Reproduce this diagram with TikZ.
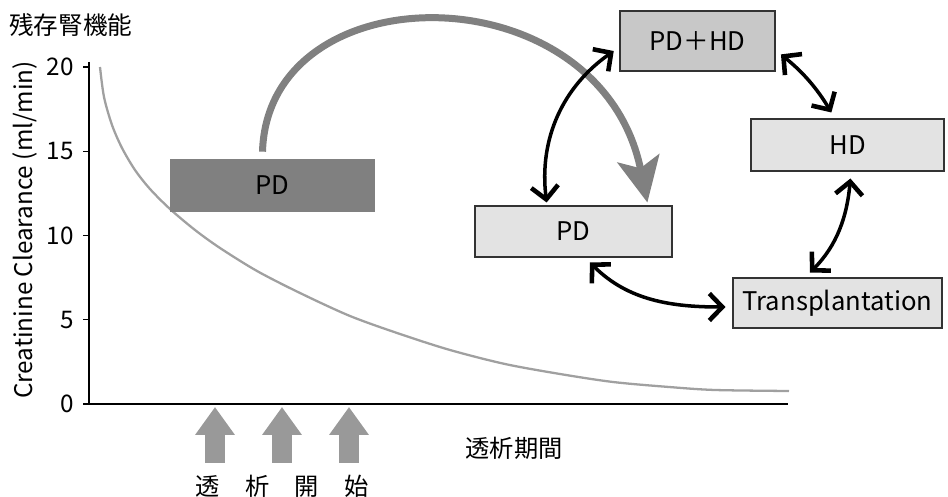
\documentclass[tikz,border=0pt]{standalone}
\usepackage{fontspec}
\setmainfont{Noto Sans CJK JP}
\usetikzlibrary{arrows.meta,calc}
\definecolor{boxDark}{HTML}{808080}
\definecolor{boxMid}{HTML}{C8C8C8}
\definecolor{boxLight}{HTML}{E3E3E3}
\definecolor{curveGray}{HTML}{A0A0A0}
\definecolor{markGray}{HTML}{999999}

\begin{document}
\begin{tikzpicture}[
x=0.02cm, y=0.02cm,
every node/.style={font=\fontsize{13.8}{16}\selectfont},
modeBox/.style={draw=black!80, line width=0.6pt, fill=boxLight, inner sep=0pt, font=\fontsize{14.6}{17}\selectfont},
arr/.style={{Straight Barb[length=2.6mm,width=5.4mm,line width=2.6pt]}-{Straight Barb[length=2.6mm,width=5.4mm,line width=2.6pt]}, line width=2pt, shorten >=0.14cm, shorten <=0.14cm},
bigarr/.style={-{Stealth[length=0.9cm,width=0.85cm,inset=0.2cm]}, line width=0.14cm, draw=boxDark},
startMark/.style={-{Triangle[length=0.56cm,width=0.76cm]}, line width=0.4cm, draw=markGray}
]
\useasboundingbox (0,0) rectangle (948,497);

% Axes, ticks and labels
\node[anchor=west, inner sep=0, font=\fontsize{14}{16}\selectfont] (title) at (9,472) {残存腎機能};
\node[rotate=90, inner sep=0] (ylab) at (25,267) {Creatinine Clearance (ml/min)};
\draw[line width=0.8pt] (89,435) -- (89,93) -- (788,93);
\foreach \v in {0,5,...,20} {
  \draw[line width=0.8pt] (83,93+16.85*\v) -- (89,93+16.85*\v);
  \node[anchor=east, inner sep=0] (t\v) at (74,93+16.85*\v) {\v};
}
\node (xlab) at (514,49) {透析期間};

% Residual function curve
\draw[curveGray, line width=1.3pt] plot[smooth, tension=0.5] coordinates {
  (100,430) (104,400) (112,372) (122,349) (135,327) (150,308) (170,288)
  (195,267) (220,249) (257,226) (300,204) (350,181) (400,163) (450,147)
  (505,133) (560,123) (613,115) (669,110) (715,107) (789,106)};

% Start of dialysis markers
\foreach \x in {215,282,349}
  \draw[startMark] (\x,34) -- (\x,90);
\node (start) at (282,11) {透\hspace{1.05em}析\hspace{1.05em}開\hspace{1.05em}始};

% Boxes
\node[fill=boxDark, minimum width=4.1cm, minimum height=1.06cm, inner sep=0, font=\fontsize{14.6}{17}\selectfont] (PDd) at (272.5,311.5) {PD};
\node[modeBox, fill=boxMid, minimum width=3.1cm, minimum height=1.2cm] (PDHD) at (697.5,456) {PD＋HD};
\node[modeBox, minimum width=3.86cm, minimum height=1.04cm] (HD) at (847.5,352) {HD};
\node[modeBox, minimum width=3.94cm, minimum height=1.02cm] (PDr) at (573.5,265.5) {PD};
\node[modeBox, minimum width=4.18cm, minimum height=1.0cm] (Tx) at (837.5,194) {Transplantation};

% Transition from early PD
\draw[bigarr, shorten >=0.06cm] ([shift={(-10,7)}]PDd.north) .. controls (268,527) and (600,527) .. ([xshift=1.49cm]PDr.north);

% Transitions between modalities
\draw[arr, shorten <=0.06cm] ([xshift=-0.53cm]PDr.north) to[out=97, in=215] ([yshift=-0.12cm]PDHD.west);
\draw[arr] ([yshift=-0.18cm]PDHD.east) to[bend left=10] ([xshift=-0.25cm]HD.north);
\draw[arr] ([xshift=0.07cm]HD.south) to[out=265, in=45] ([xshift=-0.65cm]Tx.north);
\draw[arr] ([xshift=0.23cm]PDr.south) to[out=-45, in=180] ([yshift=-0.08cm]Tx.west);

\end{tikzpicture}
\end{document}
